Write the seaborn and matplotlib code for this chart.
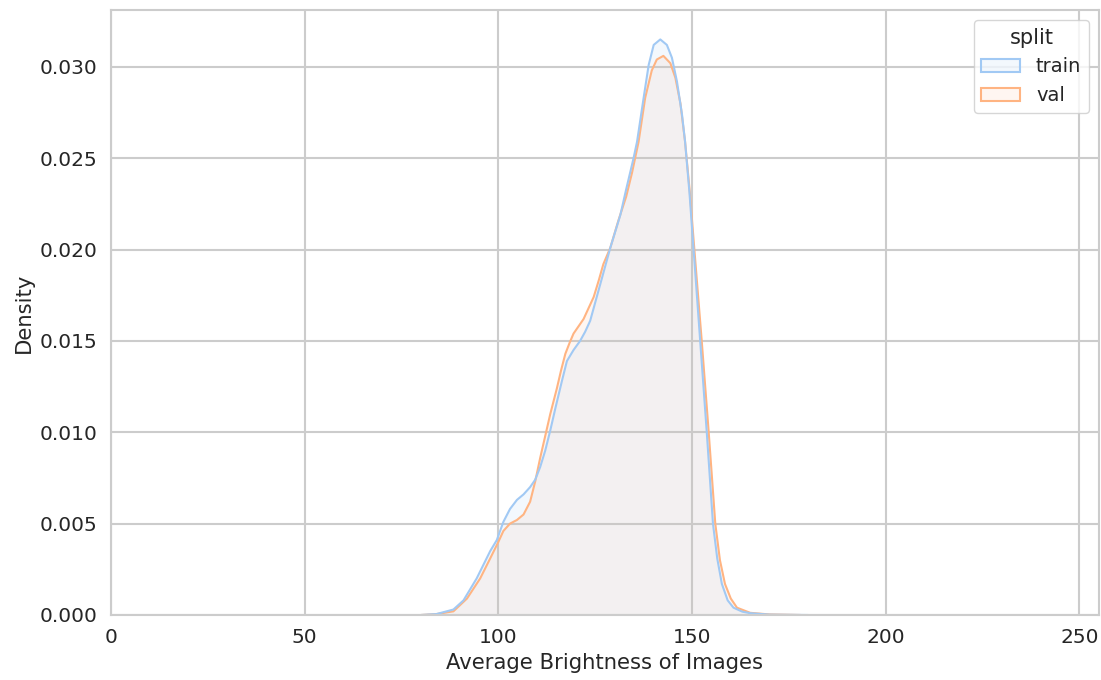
import numpy as np
import pandas as pd
import seaborn as sns
from matplotlib import pyplot as plt
from matplotlib.patches import Patch
from matplotlib.colors import to_rgba

# density curves (brightness vs density)
train_x = [80, 84, 88.4, 91, 94.4, 97.9, 99.6, 101.3, 103.0, 104.8, 106.5, 108.2, 109.5, 110.8,
           112.1, 113.4, 114.7, 116.4, 117.7, 119.4, 121.1, 122.4, 123.7, 125.0, 126.3, 127.6,
           128.9, 130.2, 131.5, 133.0, 134.9, 135.8, 137.5, 138.8, 140.1, 141.8, 143.5, 144.8,
           146.1, 147.4, 148.2, 149.3, 150.4, 152.1, 153.8, 155.4, 156.5, 157.7, 159.2, 160.7,
           163, 165, 170, 180]
train_y = [0, 0.00005, 0.0003, 0.0008, 0.0020, 0.0035, 0.0041, 0.0051, 0.0058, 0.0063, 0.0066,
           0.0070, 0.0074, 0.0081, 0.0090, 0.0101, 0.0113, 0.0128, 0.0139, 0.0145, 0.0150, 0.0155,
           0.0161, 0.0171, 0.0181, 0.0191, 0.0201, 0.0210, 0.0219, 0.0233, 0.0250, 0.0259, 0.0283,
           0.0301, 0.0312, 0.0315, 0.0312, 0.0305, 0.0292, 0.0274, 0.0259, 0.0232, 0.0200, 0.0150,
           0.0100, 0.0050, 0.0031, 0.0017, 0.0008, 0.0004, 0.00018, 0.0001, 0.00002, 0]

val_x = [80, 84, 88.4, 91.9, 95.3, 97.9, 100.0, 101.3, 103.0, 104.8, 106.5, 108.2, 109.5, 110.8,
         112.1, 113.4, 115.1, 116.2, 117.3, 118.4, 119.4, 120.7, 122.0, 123.3, 124.6, 125.9,
         127.1, 128.9, 131.0, 133.0, 134.5, 136.2, 137.9, 139.6, 140.9, 142.6, 144.4, 145.7,
         147.0, 148.2, 149.4, 150.6, 152.5, 154.3, 156.0, 157.2, 158.5, 160.0, 161.6, 165, 170, 178]
val_y = [0, 0.00005, 0.0002, 0.0009, 0.0020, 0.0031, 0.0040, 0.0046, 0.0050, 0.0052, 0.0055,
         0.0062, 0.0073, 0.0086, 0.0098, 0.0110, 0.0124, 0.0134, 0.0143, 0.0149, 0.0154, 0.0158,
         0.0162, 0.0168, 0.0174, 0.0183, 0.0192, 0.0201, 0.0216, 0.0229, 0.0242, 0.0259, 0.0283,
         0.0298, 0.0304, 0.0306, 0.0302, 0.0294, 0.0280, 0.0259, 0.0232, 0.0200, 0.0150, 0.0100,
         0.0050, 0.0030, 0.0017, 0.0009, 0.0004, 0.00012, 0.00003, 0]

splits = ['train', 'val']
x_ticks = [0, 50, 100, 150, 200, 250]
y_ticks = [0.000, 0.005, 0.010, 0.015, 0.020, 0.025, 0.030]

df = pd.concat([
    pd.DataFrame({'brightness': train_x, 'density': train_y, 'split': 'train'}),
    pd.DataFrame({'brightness': val_x, 'density': val_y, 'split': 'val'}),
], ignore_index=True)

sns.set_theme(style='whitegrid', rc={'grid.linewidth': 1.5, 'axes.linewidth': 1.5})
colors = sns.color_palette('pastel', 2)
pal = dict(zip(splits, colors))
fill_alpha = {'train': 0.12, 'val': 0.11}

fig, ax = plt.subplots(figsize=(11.01, 6.8), dpi=100)
fig.subplots_adjust(left=0.1008, right=0.998, top=0.985, bottom=0.0956)

# layers drawn in reverse order like kdeplot does (val under train)
for s in splits[::-1]:
    sub = df[df['split'] == s]
    ax.fill_between(sub['brightness'], sub['density'], color=pal[s], alpha=fill_alpha[s], linewidth=0)
    sns.lineplot(data=sub, x='brightness', y='density', color=pal[s],
                 linewidth=1.5, legend=False, ax=ax, sort=False)

ax.set_xlim(0, 255)
ax.set_ylim(0, 0.0331)
ax.set_xticks(x_ticks)
ax.set_yticks(y_ticks)
ax.set_yticklabels(['%.3f' % v for v in y_ticks])
ax.tick_params(labelsize=14.5)
ax.set_xlabel('Average Brightness of Images', fontsize=15.2)
ax.set_ylabel('Density', fontsize=15.2)

handles = [Patch(facecolor=to_rgba(pal[s], fill_alpha[s]), edgecolor=pal[s], linewidth=1.5, label=s)
           for s in splits]
leg = ax.legend(handles=handles, title='split', loc='upper right', fontsize=14, title_fontsize=15)

plt.savefig('out.png')
